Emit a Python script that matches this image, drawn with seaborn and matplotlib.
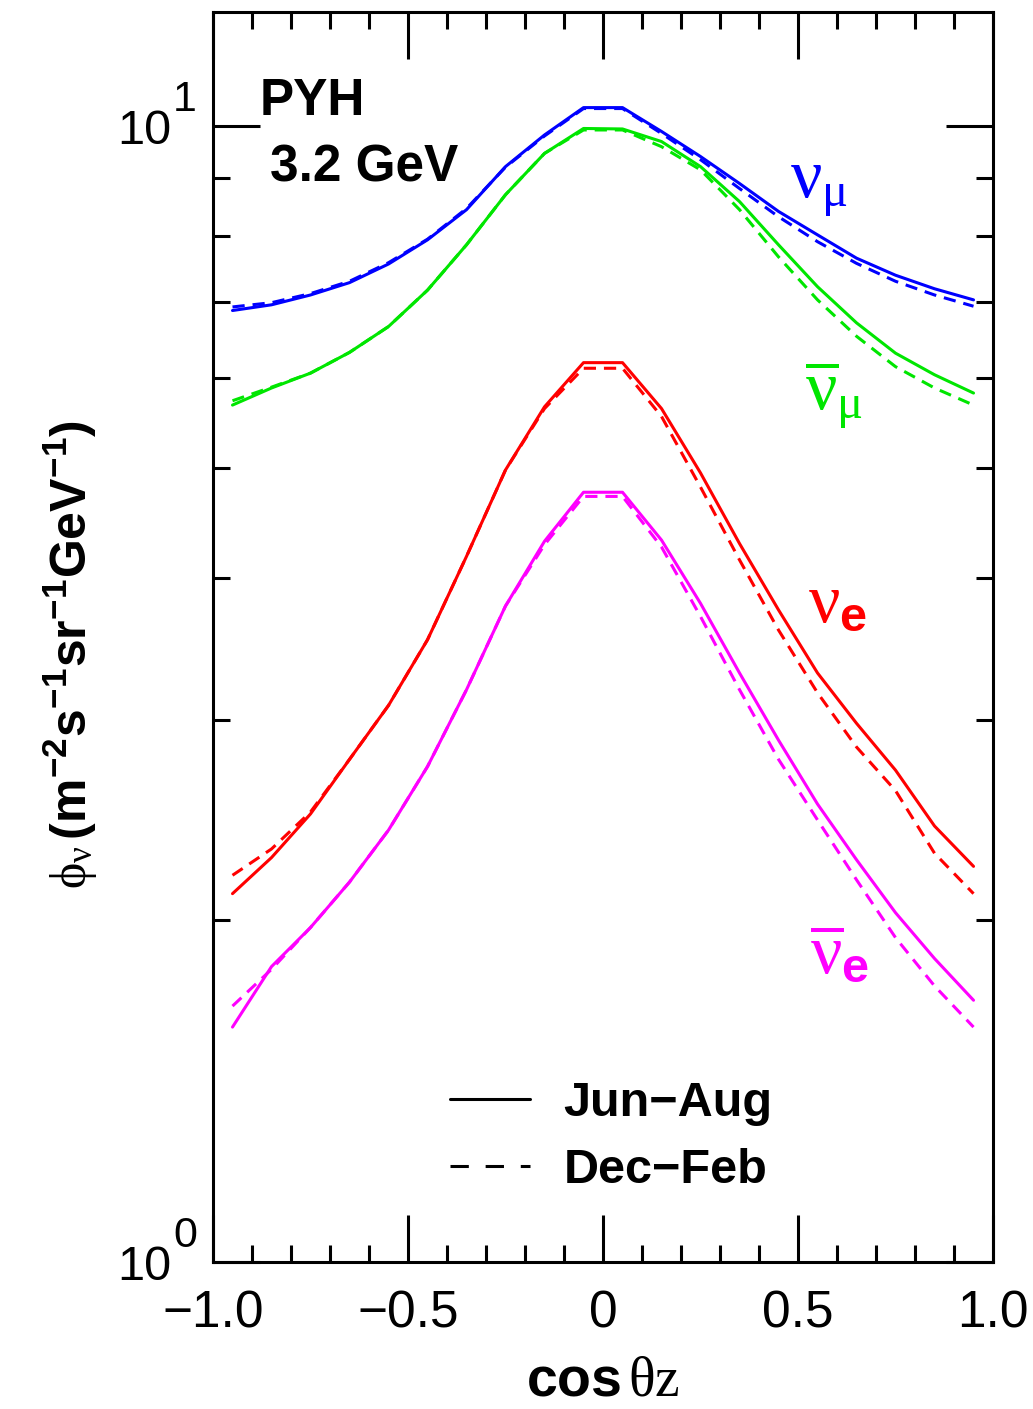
import matplotlib
matplotlib.use('Agg')
import matplotlib.pyplot as plt
from matplotlib import font_manager
from matplotlib.lines import Line2D
from matplotlib.ticker import MultipleLocator, LogLocator, NullFormatter
from matplotlib.transforms import blended_transform_factory, ScaledTranslation
import numpy as np
import pandas as pd
import seaborn as sns

# cos(zenith) bin centres
cos_z = [-0.95, -0.85, -0.75, -0.65, -0.55, -0.45, -0.35, -0.25, -0.15, -0.05,
         0.05, 0.15, 0.25, 0.35, 0.45, 0.55, 0.65, 0.75, 0.85, 0.95]

# flux values (m^-2 s^-1 sr^-1 GeV^-1)
numu_jun = [6.88, 6.96, 7.10, 7.28, 7.56, 7.94, 8.44, 9.21, 9.82, 10.38,
            10.38, 9.89, 9.40, 8.90, 8.41, 8.02, 7.65, 7.39, 7.19, 7.03]
numu_dec = [6.93, 6.99, 7.12, 7.30, 7.58, 7.95, 8.46, 9.20, 9.80, 10.36,
            10.36, 9.85, 9.34, 8.81, 8.32, 7.91, 7.57, 7.30, 7.10, 6.94]
numubar_jun = [5.68, 5.88, 6.06, 6.32, 6.66, 7.17, 7.86, 8.70, 9.46, 9.95,
               9.94, 9.69, 9.21, 8.58, 7.86, 7.22, 6.71, 6.31, 6.04, 5.82]
numubar_dec = [5.73, 5.89, 6.06, 6.32, 6.66, 7.17, 7.86, 8.70, 9.46, 9.92,
               9.92, 9.59, 9.15, 8.44, 7.67, 7.03, 6.53, 6.14, 5.88, 5.68]
nue_jun = [2.11, 2.27, 2.48, 2.77, 3.09, 3.53, 4.18, 4.98, 5.66, 6.19,
           6.19, 5.64, 4.95, 4.29, 3.75, 3.30, 2.98, 2.71, 2.42, 2.23]
nue_dec = [2.19, 2.31, 2.49, 2.77, 3.09, 3.53, 4.18, 4.98, 5.64, 6.12,
           6.12, 5.55, 4.81, 4.15, 3.60, 3.17, 2.84, 2.60, 2.29, 2.11]
nuebar_jun = [1.61, 1.82, 1.97, 2.16, 2.40, 2.73, 3.19, 3.78, 4.31, 4.76,
              4.76, 4.32, 3.80, 3.30, 2.88, 2.53, 2.26, 2.03, 1.85, 1.70]
nuebar_dec = [1.68, 1.81, 1.97, 2.16, 2.40, 2.73, 3.19, 3.78, 4.28, 4.72,
              4.72, 4.26, 3.70, 3.19, 2.77, 2.45, 2.17, 1.93, 1.75, 1.61]

seasons = ['Jun\u2212Aug', 'Dec\u2212Feb']
flavours = ['numu', 'numubar', 'nue', 'nuebar']
xtick_values = [-1.0, -0.5, 0.0, 0.5, 1.0]
xtick_labels = ['\u22121.0', '\u22120.5', '0', '0.5', '1.0']
ytick_values = [1, 10]
ytick_labels = ['10', '10']
ytick_exponents = ['0', '1']

colours = {'numu': '#0000ff', 'numubar': '#00e600', 'nue': '#ff0000', 'nuebar': '#ff00ff'}

# Build long dataframe
series = {('numu', seasons[0]): numu_jun, ('numu', seasons[1]): numu_dec,
          ('numubar', seasons[0]): numubar_jun, ('numubar', seasons[1]): numubar_dec,
          ('nue', seasons[0]): nue_jun, ('nue', seasons[1]): nue_dec,
          ('nuebar', seasons[0]): nuebar_jun, ('nuebar', seasons[1]): nuebar_dec}
rows = []
for (flav, season), vals in series.items():
    for c, v in zip(cos_z, vals):
        rows.append({'cos': c, 'flux': v, 'flavour': flav, 'season': season})
df = pd.DataFrame(rows)

# Styling
sns.set_theme(style='ticks')
names = {f.name for f in font_manager.fontManager.ttflist}
narrow = 'Liberation Sans Narrow' if 'Liberation Sans Narrow' in names else 'Liberation Sans'
plt.rcParams['font.family'] = ['Liberation Sans', 'DejaVu Sans']
# upright serif greek letters like the Symbol font of the original
plt.rcParams['mathtext.fontset'] = 'custom'
plt.rcParams['mathtext.rm'] = 'Liberation Serif'
plt.rcParams['mathtext.it'] = 'Liberation Serif:italic'
plt.rcParams['mathtext.bf'] = 'Liberation Serif:bold'
plt.rcParams.update({'axes.linewidth': 2.2, 'axes.edgecolor': 'black',
                     'text.color': 'black', 'axes.labelcolor': 'black',
                     'xtick.color': 'black', 'ytick.color': 'black'})

fig = plt.figure(figsize=(10.33, 14.09), dpi=100)
ax = fig.add_axes([0.2062, 0.1043, 0.7551, 0.8872])
ax.set_yscale('log')

sns.lineplot(data=df, x='cos', y='flux', hue='flavour', style='season',
             hue_order=flavours, style_order=seasons, palette=colours,
             dashes={seasons[0]: '', seasons[1]: (4, 2.6)},
             linewidth=2.2, estimator=None, sort=False, legend=False, ax=ax)

ax.set_xlim(-1.0, 1.0)
ax.set_ylim(1.0, 12.6)

ax.xaxis.set_major_locator(MultipleLocator(0.5))
ax.xaxis.set_minor_locator(MultipleLocator(0.1))
ax.set_xticks(xtick_values, labels=xtick_labels)
ax.set_yticks(ytick_values, labels=ytick_labels)
ax.yaxis.set_minor_locator(LogLocator(base=10, subs=np.arange(2, 10)))
ax.yaxis.set_minor_formatter(NullFormatter())

ax.tick_params(which='both', direction='in', top=True, right=True, width=2.2, color='black')
ax.tick_params(which='major', length=34)
ax.tick_params(which='minor', length=12)
ax.tick_params(axis='x', which='major', pad=20, labelsize=37)
ax.tick_params(axis='y', which='major', pad=30, labelsize=35)
for lbl in ax.get_xticklabels():
    lbl.set_family(narrow)

# large exponents next to the "10" tick labels
exp_trans = blended_transform_factory(ax.transAxes, ax.transData) + \
    ScaledTranslation(0, 0.15, fig.dpi_scale_trans)
for val, e in zip(ytick_values, ytick_exponents):
    ax.text(-0.051, val, e, transform=exp_trans, fontsize=31, ha='left', va='baseline')

for side in ['top', 'right', 'bottom', 'left']:
    ax.spines[side].set_visible(True)
    ax.spines[side].set_color('black')

ax.set_xlabel(r'$\mathregular{cos}\,\mathrm{\theta z}$', fontsize=40, fontweight='bold')
ax.xaxis.set_label_coords(0.5, -0.075)
ax.set_ylabel(r'$\mathrm{ϕ}_{\mathrm{\nu}}\,\mathregular{(m^{-2}s^{-1}sr^{-1}GeV^{-1})}$',
              fontsize=36, fontweight='bold')
ax.yaxis.set_label_coords(-0.145, 0.486)

ax.text(0.060, 0.948, 'PYH', transform=ax.transAxes, fontsize=37, fontweight='bold', va='top')
ax.text(0.073, 0.895, '3.2 GeV', transform=ax.transAxes, fontsize=37, fontweight='bold', va='top')

ax.text(0.740, 0.860, r'$\mathrm{\nu_{\mu}}$', transform=ax.transAxes, fontsize=50,
        color=colours['numu'], va='center')
ax.text(0.759, 0.694, r'$\overline{\mathrm{\nu}}_{\mathrm{\mu}}$', transform=ax.transAxes, fontsize=50,
        color=colours['numubar'], va='center')
ax.text(0.763, 0.527, r'$\mathrm{\nu}_{\mathregular{e}}$', transform=ax.transAxes, fontsize=50,
        color=colours['nue'], va='center', fontweight='bold')
ax.text(0.765, 0.245, r'$\overline{\mathrm{\nu}}_{\mathregular{e}}$', transform=ax.transAxes, fontsize=50,
        color=colours['nuebar'], va='center', fontweight='bold')

handles = [Line2D([], [], color='black', lw=2.2, ls='-'),
           Line2D([], [], color='black', lw=2.2, dashes=(6, 5.5))]
leg = ax.legend(handles, seasons, loc='upper left', bbox_to_anchor=(0.304, 0.145),
                frameon=False, borderpad=0, borderaxespad=0, handlelength=1.65,
                handletextpad=0.68, labelspacing=0.45,
                prop={'size': 35, 'weight': 'bold'})

fig.savefig('out.png', dpi=100)
